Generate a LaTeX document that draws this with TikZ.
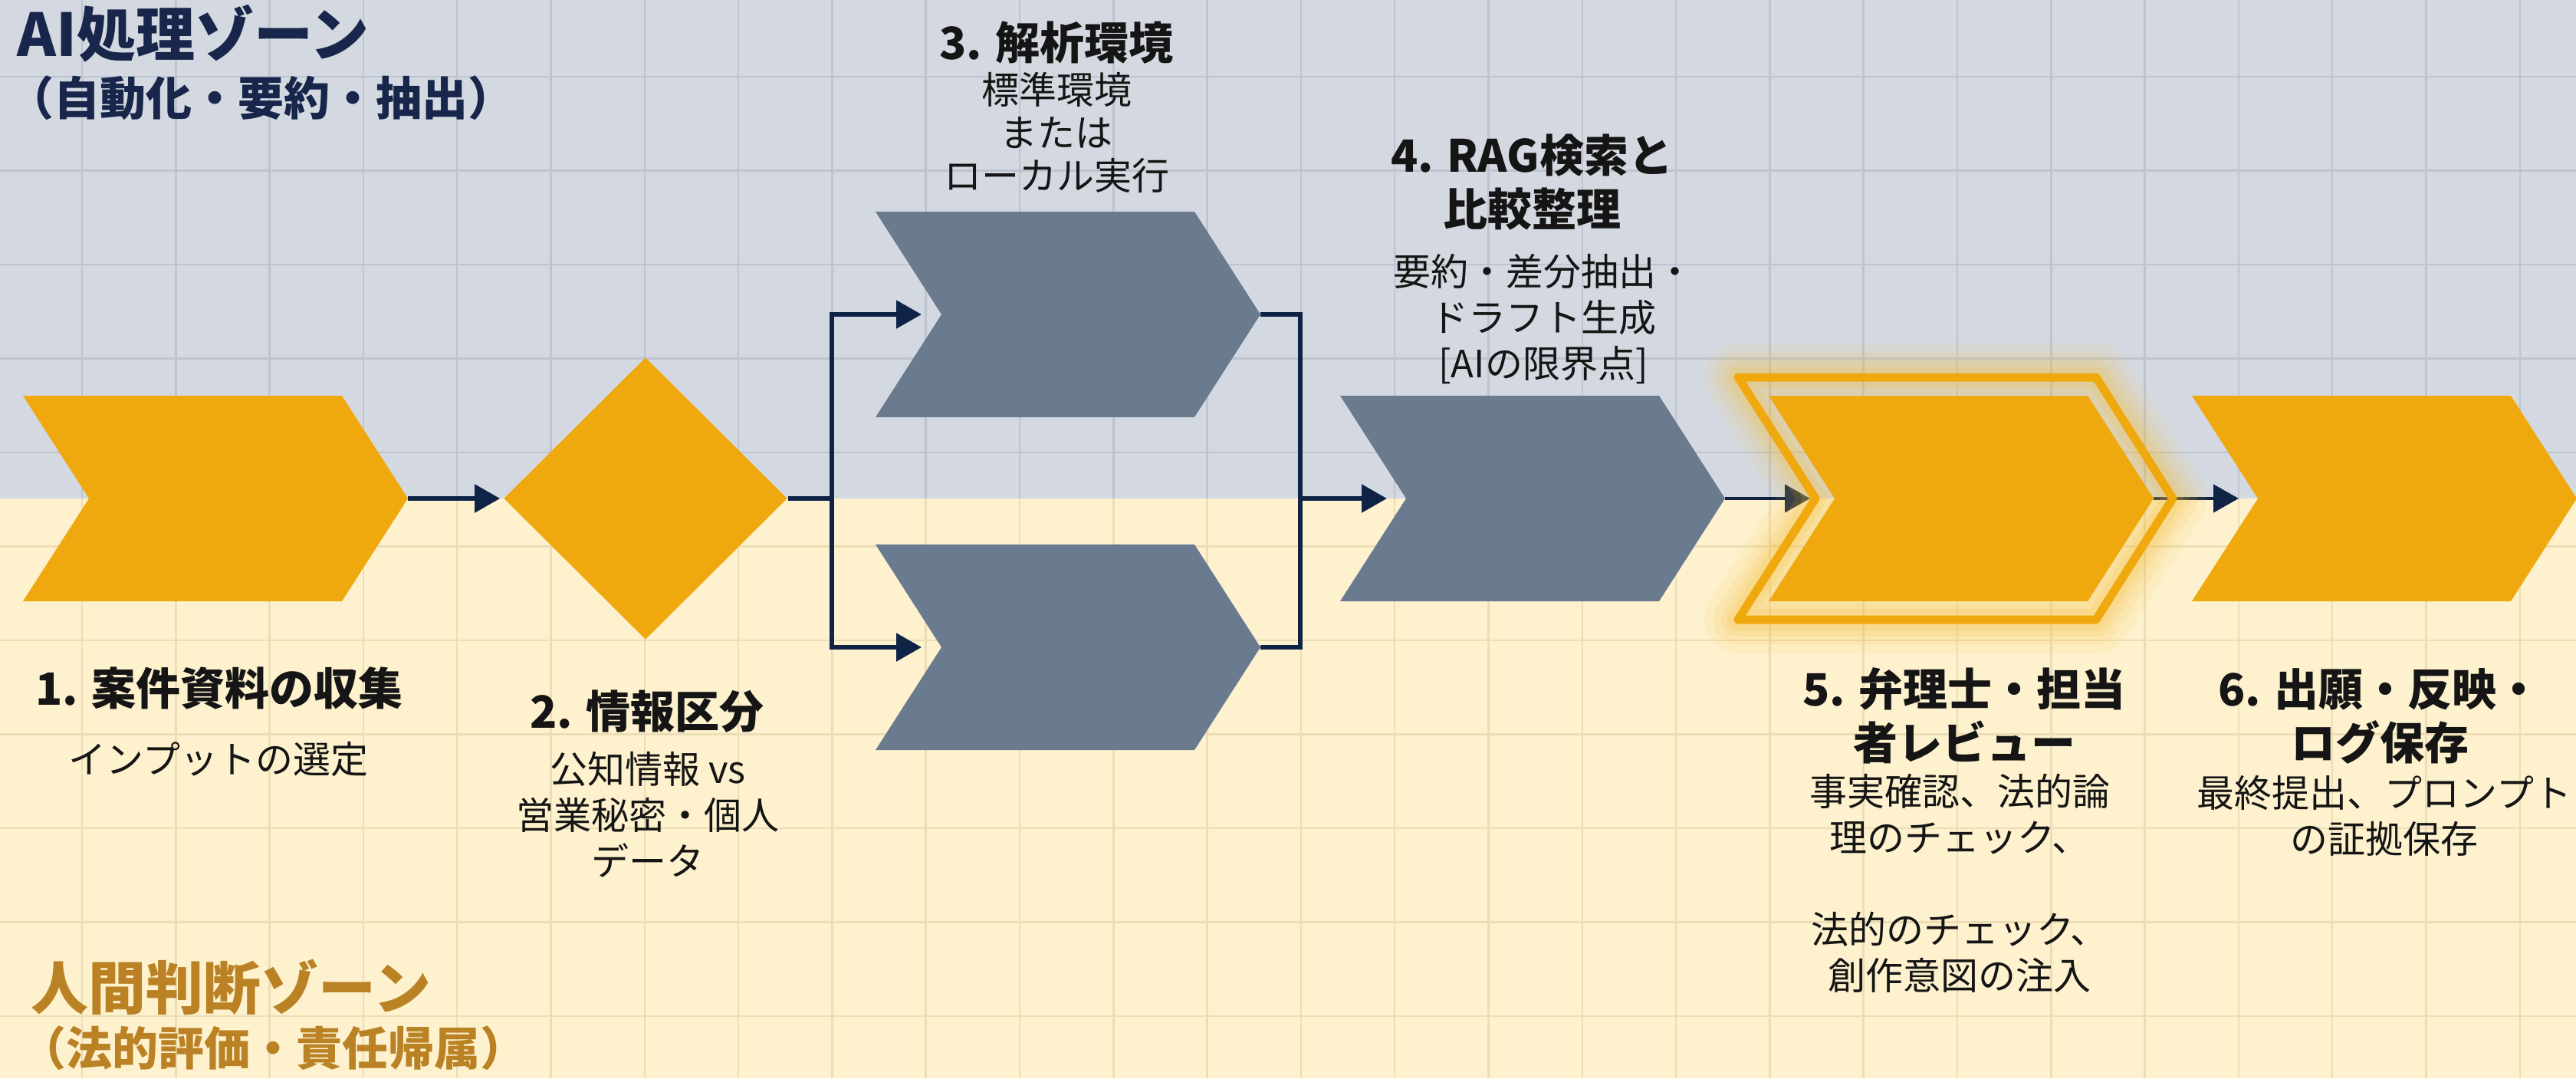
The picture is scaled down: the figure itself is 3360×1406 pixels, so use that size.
\documentclass[tikz,border=0pt]{standalone}
\usepackage{fontspec}
\setmainfont{Noto Sans CJK JP}
\usetikzlibrary{arrows.meta,shapes.geometric}
\definecolor{zoneA}{HTML}{D4D9E1}
\definecolor{zoneB}{HTML}{FDF1CE}
\definecolor{gridA}{HTML}{BDC4CF}
\definecolor{gridB}{HTML}{ECDDB5}
\definecolor{amber}{HTML}{EFA90F}
\definecolor{slate}{HTML}{6A7A8F}
\definecolor{navy}{HTML}{0F2346}
\definecolor{titleA}{HTML}{17264A}
\definecolor{titleB}{HTML}{BA8224}
\definecolor{ink}{HTML}{151515}
\definecolor{glow}{HTML}{F6BE30}
\tikzset{
  pics/chevron/.style={code={
    \fill[#1] (0,-134) -- (416,-134) -- (502,0) -- (416,134) -- (0,134) -- (86,0) -- cycle;
    \coordinate (-in) at (86,0);
    \coordinate (-out) at (502,0);
  }},
  conn/.style={draw=navy, line width=1.375pt},
  thinconn/.style={draw=navy, line width=1.125pt},
  arr/.style={-{Triangle[length=8.25pt,width=9pt]}},
  ttl/.style={inner sep=0pt, text=ink, align=center, font=\fontsize{14.5pt}{17.5pt}\selectfont\bfseries},
  dsc/.style={inner sep=0pt, text=ink, align=center, font=\fontsize{12.25pt}{15pt}\selectfont},
  gridline/.style={line width=0.625pt},
}
\begin{document}
\begin{tikzpicture}[x=0.25pt, y=-0.25pt]
\useasboundingbox (0,0) rectangle (3360,1406);
\clip (0,0) rectangle (3360,1406);
% zones
\fill[zoneA] (0,0) rectangle (3360,650);
\fill[zoneB] (0,650) rectangle (3360,1406);
\begin{scope}
  \clip (0,0) rectangle (3360,650);
  \foreach \i in {-1,...,27} \draw[gridA, gridline] ({107+122.3*\i},0) -- ++(0,1406);
  \foreach \j in {-1,...,11} \draw[gridA, gridline] (0,{100+122.5*\j}) -- ++(3360,0);
\end{scope}
\begin{scope}
  \clip (0,650) rectangle (3360,1406);
  \foreach \i in {-1,...,27} \draw[gridB, gridline] ({107+122.3*\i},0) -- ++(0,1406);
  \foreach \j in {-1,...,11} \draw[gridB, gridline] (0,{100+122.5*\j}) -- ++(3360,0);
\end{scope}

% zone titles
\node[anchor=base west, inner sep=0pt, text=titleA, font=\fontsize{19.25pt}{22pt}\selectfont\bfseries] (za) at (22,73) {AI処理ゾーン};
\node[anchor=base west, inner sep=0pt, text=titleA, font=\fontsize{15pt}{17pt}\selectfont\bfseries] (zas) at (10,150) {（自動化・要約・抽出）};
\node[anchor=base west, inner sep=0pt, text=titleB, font=\fontsize{18.75pt}{22pt}\selectfont\bfseries] (zb) at (40,1316) {人間判断ゾーン};
\node[anchor=base west, inner sep=0pt, text=titleB, font=\fontsize{15pt}{17pt}\selectfont\bfseries] (zbs) at (26,1389) {（法的評価・責任帰属）};

% shapes
\pic (c1) at (30,650) {chevron=amber};
\node[diamond, fill=amber, inner sep=0pt, minimum width=92.5pt, minimum height=92pt] (d) at (842,650) {};
\pic (c3) at (1142,410) {chevron=slate};
\pic (c3b) at (1142,844) {chevron=slate};
\pic (c4) at (1748,650) {chevron=slate};
\coordinate (jl) at (1085,650);
\coordinate (jr) at (1696,650);
\coordinate (c5o-in) at (2368,650);

% connectors
\draw[conn, arr, shorten >=1pt] (c1-out) -- (d.west);
\draw[conn] (d.east) -- (jl);
\draw[conn, arr, shorten >=6.5pt] (jl) |- (c3-in);
\draw[conn, arr, shorten >=6.5pt] (jl) |- (c3b-in);
\draw[conn] (c3-out) -| (jr);
\draw[conn] (c3b-out) -| (jr);
\draw[conn, arr, shorten >=6.25pt] (jr) -- (c4-in);
\draw[thinconn, arr, shorten >=1.75pt] (c4-out) -- (c5o-in);

% highlighted step 5
\pic (c6) at (2859,650) {chevron=amber};
\coordinate (c5-outtip) at (2809,650);
\draw[thinconn, arr, shorten >=6.25pt] (c5-outtip) -- (c6-in);
\foreach \w/\o in {22/0.09, 16/0.11, 11/0.13, 7/0.15}
  \draw[glow, line width=\w pt, opacity=\o, line join=round]
    (2267,492) -- (2734,492) -- (2834,650) -- (2734,808) -- (2267,808) -- (2368,650) -- cycle;
\draw[amber, line width=2.75pt, line join=round]
    (2267,492) -- (2734,492) -- (2834,650) -- (2734,808) -- (2267,808) -- (2368,650) -- cycle;
\pic (c5) at (2307,650) {chevron=amber};

% labels (anchor base = baseline of the last line)
\node[ttl, anchor=base] (t1) at (286,919) {1. 案件資料の収集};
\node[dsc, anchor=base] (s1) at (285,1008) {インプットの選定};
\node[ttl, anchor=base] (t2) at (844,949) {2. 情報区分};
\node[dsc, anchor=base] (s2) at (845,1141) {公知情報 vs\\営業秘密・個人\\データ};
\node[ttl, anchor=base] (t3) at (1378,77) {3. 解析環境};
\node[dsc, anchor=base, font=\fontsize{12.25pt}{14pt}\selectfont] (s3) at (1378,247) {標準環境\\または\\ローカル実行};
\node[ttl, anchor=base] (t4) at (1998,294) {4. RAG検索と\\比較整理};
\node[dsc, anchor=base] (s4) at (2013,492) {要約・差分抽出・\\ドラフト生成\\{[}AIの限界点]};
\node[ttl, anchor=base] (t5) at (2562,990) {5. 弁理士・担当\\者レビュー};
\node[dsc, anchor=base] (s5) at (2556,1290) {事実確認、法的論\\理のチェック、\\\mbox{}\\法的のチェック、\\創作意図の注入};
\node[ttl, anchor=base] (t6) at (3104,990) {6. 出願・反映・\\ログ保存};
\node[dsc, anchor=base] (s6) at (3110,1112) {最終提出、プロンプト\\の証拠保存};
\end{tikzpicture}
\end{document}
